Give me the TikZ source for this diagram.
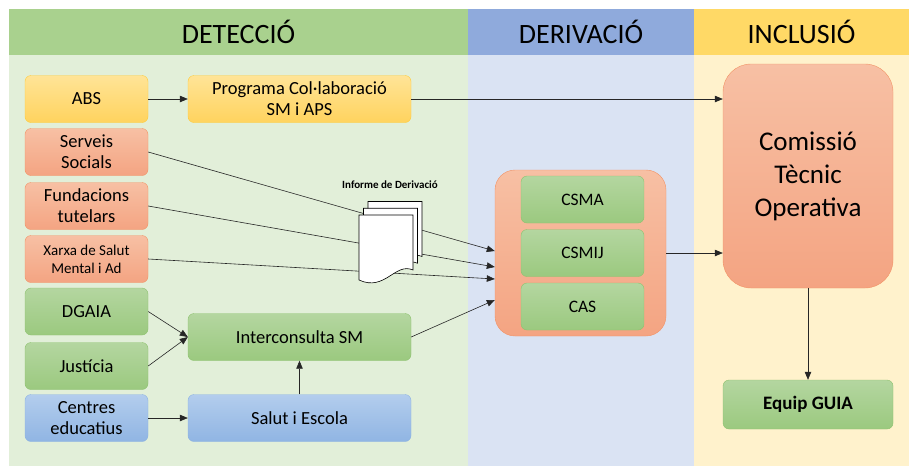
\documentclass[tikz,border=0pt]{standalone}
\usepackage{fontspec}
\setmainfont{Carlito}
\usepackage{xcolor}
\usetikzlibrary{arrows.meta, positioning, calc}
\definecolor{DetHead}{HTML}{A9D18E}
\definecolor{DetBody}{HTML}{E2EFD9}
\definecolor{DerHead}{HTML}{8FAADC}
\definecolor{DerBody}{HTML}{DAE3F3}
\definecolor{IncHead}{HTML}{FFD966}
\definecolor{IncBody}{HTML}{FFF2CC}
\definecolor{GreenTop}{HTML}{B4D6A0}
\definecolor{GreenBot}{HTML}{9BC97F}
\definecolor{GreenEdge}{HTML}{8EC26F}
\definecolor{OrTop}{HTML}{F7C0A4}
\definecolor{OrBot}{HTML}{F4A482}
\definecolor{OrEdge}{HTML}{F29366}
\definecolor{YelTop}{HTML}{FFE497}
\definecolor{YelBot}{HTML}{FFD35E}
\definecolor{YelEdge}{HTML}{FFCB3A}
\definecolor{BlueTop}{HTML}{B3CDED}
\definecolor{BlueBot}{HTML}{90B5E3}
\definecolor{BlueEdge}{HTML}{8DB3E2}

\begin{document}
\begin{tikzpicture}[x=1pt, y=-1pt,
    box/.style={rectangle, rounded corners=6pt, minimum width=123pt,
                minimum height=47pt, align=center, inner sep=2pt,
                font=\fontsize{18.5}{21}\selectfont},
    greenbox/.style={box, draw=GreenEdge, top color=GreenTop, bottom color=GreenBot},
    orbox/.style={box, draw=OrEdge, top color=OrTop, bottom color=OrBot},
    yelbox/.style={box, draw=YelEdge, top color=YelTop, bottom color=YelBot},
    bluebox/.style={box, draw=BlueEdge, top color=BlueTop, bottom color=BlueBot},
    head/.style={font=\fontsize{28}{30}\selectfont},
    arr/.style={-{Triangle[length=8pt,width=6.5pt]}, line width=0.6pt, black!85}]

    % columns
    \useasboundingbox (0,0) rectangle (909,466);
    \fill[DetHead] (9,9) rectangle (468,55);
    \fill[DerHead] (468,9) rectangle (694,55);
    \fill[IncHead] (694,9) rectangle (909,55);
    \fill[DetBody] (9,55) rectangle (468,466);
    \fill[DerBody] (468,55) rectangle (694,466);
    \fill[IncBody] (694,55) rectangle (909,466);
    \node[head] (hDet) at (238.5,32) {DETECCIÓ};
    \node[head] (hDer) at (581,32) {DERIVACIÓ};
    \node[head] (hInc) at (801.5,32) {INCLUSIÓ};

    % detection boxes
    \node[yelbox] (abs) at (86.5,99) {ABS};
    \node[yelbox, minimum width=223pt] (prog) at (299.5,99) {Programa Col·laboració\\SM i APS};
    \node[orbox] (serveis) at (86.5,152) {Serveis\\Socials};
    \node[orbox] (fund) at (86.5,206) {Fundacions\\tutelars};
    \node[orbox, font=\fontsize{15}{18}\selectfont] (xarxa) at (86.5,259) {Xarxa de Salut\\Mental i Ad};
    \node[greenbox] (dgaia) at (86.5,311.5) {DGAIA};
    \node[greenbox] (just) at (86.5,366) {Justícia};
    \node[bluebox] (centres) at (86.5,418) {Centres\\educatius};
    \node[greenbox, minimum width=223pt] (inter) at (299.5,337) {Interconsulta SM};
    \node[bluebox, minimum width=223pt] (salut) at (299.5,418) {Salut i Escola};

    % derivation
    \node[rectangle, rounded corners=20pt, draw=OrEdge, top color=OrTop, bottom color=OrBot,
          minimum width=171pt, minimum height=166pt] (cont) at (580.5,253) {};
    \node[greenbox, font=\fontsize{17.5}{20}\selectfont] (csma) at (582.5,199.5) {CSMA};
    \node[greenbox, font=\fontsize{17.5}{20}\selectfont] (csmij) at (582.5,253) {CSMIJ};
    \node[greenbox, font=\fontsize{17.5}{20}\selectfont] (cas) at (582.5,306.5) {CAS};

    % inclusion
    \node[rectangle, rounded corners=28pt, draw=OrEdge, top color=OrTop, bottom color=OrBot,
          minimum width=170pt, minimum height=224pt, align=center,
          font=\fontsize{27}{33}\selectfont] (comissio) at (808,176) {Comissió\\Tècnic\\Operativa};
    \node[greenbox, minimum width=170pt, minimum height=49pt,
          font=\fontsize{19}{21}\selectfont\bfseries] (guia) at (808,404.5) {Equip GUIA};

    % connectors
    \draw[arr] (abs) -- (prog);
    \draw[arr] (prog.east) -- (prog.east -| comissio.west);
    \draw[arr] (serveis.east) -- ($(cont.west)+(0,-2)$);
    \draw[arr] (fund.east) -- ($(cont.west)+(0,14)$);
    \draw[arr] (xarxa.east) -- ($(cont.west)+(0,26)$);
    \draw[arr] (inter.east) -- ($(cont.west)+(0,47)$);
    \draw[arr] (dgaia.east) -- (inter.west);
    \draw[arr] (just.east) -- (inter.west);
    \draw[arr] (centres) -- (salut);
    \draw[arr] (salut) -- (inter);
    \draw[arr] (cont.east) -- (cont.east -| comissio.west);
    \draw[arr] (comissio) -- (guia);

    % report document
    \foreach \d in {9,4.5,0}
        \draw[fill=white, line width=0.6pt, shift={(\d,-1.5*\d)}]
            (359,215) -- (413,215) -- (413,270)
            .. controls (395,262) and (385,292) .. (359,280) -- cycle;
    \node[font=\fontsize{11}{12}\selectfont\bfseries] (docLabel) at (390,185) {Informe de Derivació};
\end{tikzpicture}
\end{document}
